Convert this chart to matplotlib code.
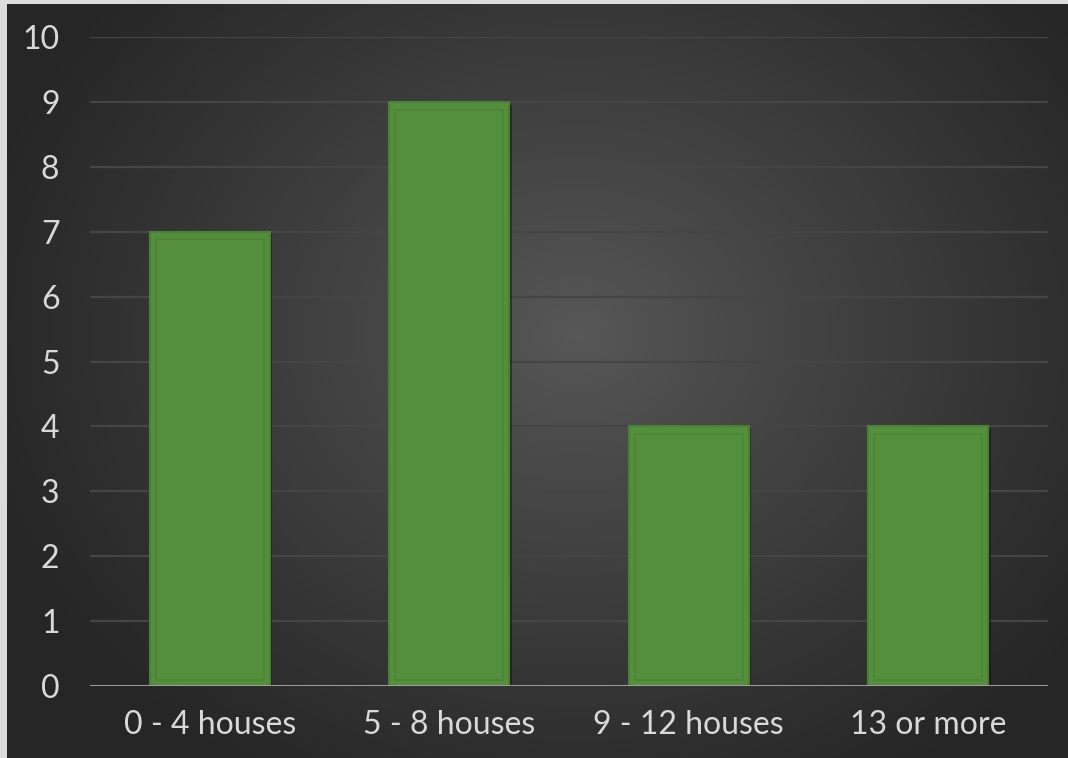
import numpy as np
import matplotlib
matplotlib.use("Agg")
import matplotlib.pyplot as plt
from matplotlib.patches import Rectangle
import matplotlib.patheffects as pe

categories = ["0 - 4 houses", "5 - 8 houses", "9 - 12 houses", "13 or more"]
values = [7, 9, 4, 4]
y_ticks = list(range(0, 11))

W, H = 1068, 758
fig = plt.figure(figsize=(W / 100, H / 100), dpi=100)
fig.patch.set_facecolor("#dcdcdc")

# dark panel with a soft radial highlight
bg = fig.add_axes([7 / W, 0, 1 - 7 / W, 1 - 4 / H])
bg.set_axis_off()
yy, xx = np.mgrid[0:754, 0:1061]
cx, cy = 570, 330
r = np.sqrt(((xx - cx) / 620.0) ** 2 + ((yy - cy) / 520.0) ** 2)
t = np.clip(r, 0, 1) ** 0.9
c0 = np.array([0x58, 0x58, 0x58]) / 255
c1 = np.array([0x26, 0x26, 0x26]) / 255
img = c0[None, None, :] * (1 - t[..., None]) + c1[None, None, :] * t[..., None]
bg.imshow(img, aspect="auto", extent=[0, 1, 0, 1], interpolation="bilinear")

ax = fig.add_axes([90 / W, (H - 686) / H, (1048 - 90) / W, (686 - 37) / H])
ax.patch.set_alpha(0)
x = np.arange(len(categories))

font = dict(family="Lato", fontsize=23, color="#d9d9d9")
ax.set_xlim(-0.5, len(categories) - 0.5)
ax.set_ylim(0, 10)
ax.set_yticks(y_ticks)
ax.set_yticklabels([str(v) for v in y_ticks], **font)
ax.set_xticks(x)
ax.set_xticklabels(categories, **font)
ax.tick_params(length=0)
ax.tick_params(axis="x", pad=17)
ax.tick_params(axis="y", pad=22)
for s in ax.spines.values():
    s.set_visible(False)
ax.grid(axis="y", color="#454545", lw=1.6, zorder=0)
ax.set_axisbelow(True)

bars = ax.bar(x, values, width=0.5, color="#558f3d", edgecolor="#4b8134",
              lw=1.5, zorder=3,
              path_effects=[pe.SimplePatchShadow(offset=(2, -2), shadow_rgbFace="#111111", alpha=0.5),
                            pe.Normal()])
# thin inner outline on each bar
for b in bars:
    bx, by = b.get_x(), b.get_y()
    bw, bh = b.get_width(), b.get_height()
    ax.add_patch(Rectangle((bx + bw * 0.05, by + 0.1), bw * 0.9, bh - 0.22,
                           fill=False, edgecolor="#4c8534", lw=1.2, zorder=4))

ax.axhline(0, color="#a6a6a6", lw=2, zorder=5)

fig.savefig("out.png", dpi=100, facecolor=fig.get_facecolor())
